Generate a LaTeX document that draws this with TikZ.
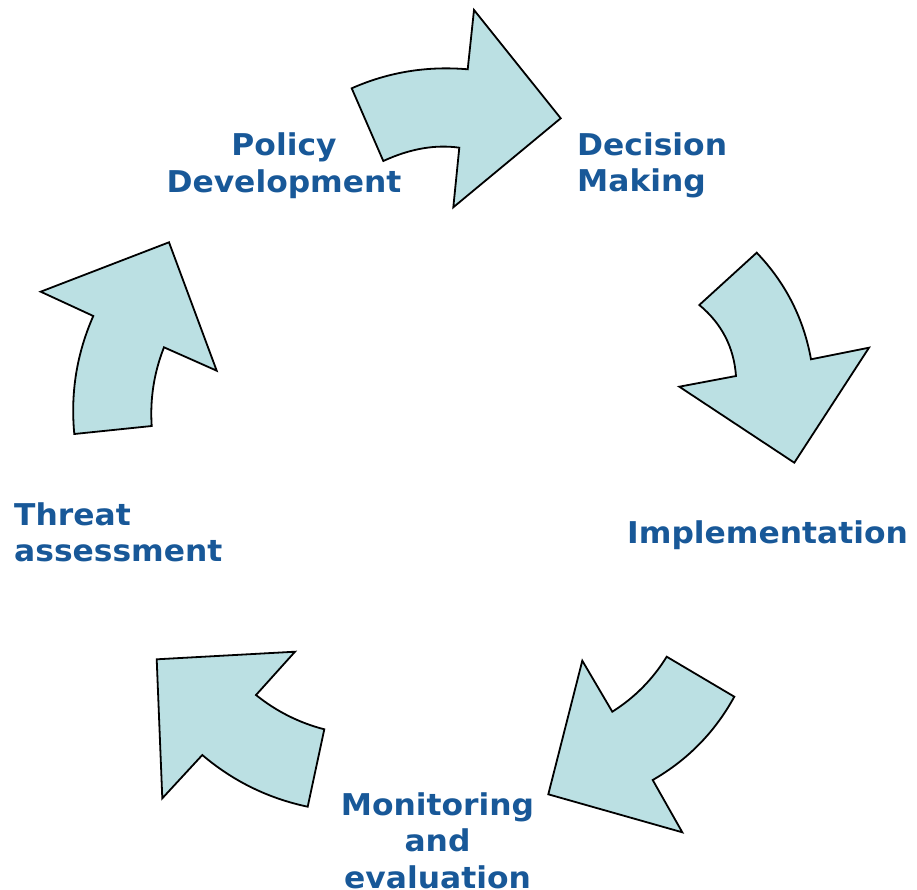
\documentclass[tikz,border=0pt]{standalone}
\usepackage{fontspec}
\setmainfont[FakeStretch=1.045]{DejaVu Sans}
\definecolor{arrowfill}{RGB}{187,224,227}
\definecolor{labelblue}{RGB}{24,88,152}
\begin{document}
\begin{tikzpicture}[x=1pt,y=-1pt,
  bigarrow/.style={draw=black, fill=arrowfill, line width=1.8pt, line join=miter},
  lbl/.style={inner sep=0pt, text=labelblue, font=\fontsize{30}{36.5}\selectfont\bfseries}]
\useasboundingbox (0,0) rectangle (917,890);
% top arrow
\draw[bigarrow] (351.7,88.3) .. controls (388.4,72.1) and (427.0,65.8) .. (467.7,69.3) -- (474,10) -- (560.7,118.3)
  -- (453.3,207.3) -- (459.3,147.7) .. controls (435.3,144.3) and (410.0,148.7) .. (383.3,161) -- cycle;
% right arrow
\draw[bigarrow] (756.7,252.7) .. controls (785.5,282.8) and (803.6,318.3) .. (811,359.3) -- (869,347.7) -- (794.3,462.7)
  -- (679.3,386.7) -- (736,376) .. controls (733.9,347.1) and (721.6,323.5) .. (699.3,305) -- cycle;
% bottom right arrow
\draw[bigarrow] (612.3,711.7) .. controls (634.7,697.6) and (652.8,679.2) .. (666.7,656.7) -- (734.3,696.7)
  .. controls (714.9,732.1) and (687.7,759.9) .. (652.7,780) -- (682.3,832.3) -- (548.3,794.3) -- (582.3,660.7) -- cycle;
% bottom left arrow
\draw[bigarrow] (295,651.7) -- (156.7,659.3) -- (162.3,798.3) -- (202.3,755)
  .. controls (233.0,781.1) and (268.2,798.4) .. (307.7,806.7) -- (324.3,729.3)
  .. controls (299.1,722.8) and (276.3,711.3) .. (256,695) -- cycle;
% left arrow
\draw[bigarrow] (74.3,434) .. controls (70.4,393.0) and (76.7,353.7) .. (93.3,316) -- (40.7,291.7) -- (169,242.3)
  -- (216.7,370.7) -- (164,347.3) .. controls (154.0,372.6) and (149.9,398.9) .. (151.7,426) -- cycle;
% labels (base anchor = baseline of last line)
\node[lbl, align=center, anchor=base] (policy) at (284,192.5) {Policy\\Development};
\node[lbl, align=left, anchor=base west] (decision) at (577,192) {Decision\\Making};
\node[lbl, anchor=base west] (impl) at (627,543.3) {Implementation};
\node[lbl, align=left, anchor=base west] (threat) at (14,561.7) {Threat\\assessment};
\node[lbl, align=center, anchor=base] (monitor) at (437.5,888) {Monitoring\\and\\evaluation};
\end{tikzpicture}
\end{document}
